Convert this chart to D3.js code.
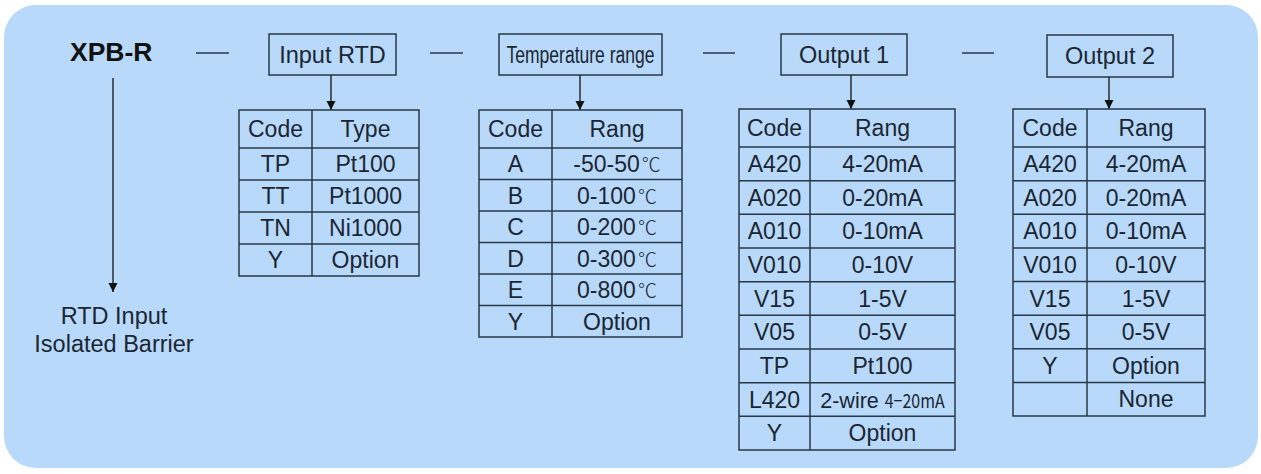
<!DOCTYPE html>
<html><head><meta charset="utf-8">
<script src="https://cdn.jsdelivr.net/npm/d3@7"></script>
<style>html,body{margin:0;padding:0;background:#fff;}svg{display:block;}</style>
</head><body>
<svg id="c" width="1261" height="474"></svg>
<script>
// ---- data ----
const title = "XPB-R";
const subtitle = ["RTD Input", "Isolated Barrier"];
const sectionTitles = ["Input RTD", "Temperature range", "Output 1", "Output 2"];
const headerCodes = ["Code", "Code", "Code", "Code"];
const headerNames = ["Type", "Rang", "Rang", "Rang"];
const inputCodes = ["TP", "TT", "TN", "Y"];
const inputTypes = ["Pt100", "Pt1000", "Ni1000", "Option"];
const tempCodes = ["A", "B", "C", "D", "E", "Y"];
const tempRanges = ["-50-50℃", "0-100℃", "0-200℃", "0-300℃", "0-800℃", "Option"];
const out1Codes = ["A420", "A020", "A010", "V010", "V15", "V05", "TP", "L420", "Y"];
const out1Ranges = ["4-20mA", "0-20mA", "0-10mA", "0-10V", "1-5V", "0-5V", "Pt100", "2-wire 4−20mA", "Option"];
const out2Codes = ["A420", "A020", "A010", "V010", "V15", "V05", "Y", ""];
const out2Ranges = ["4-20mA", "0-20mA", "0-10mA", "0-10V", "1-5V", "0-5V", "Option", "None"];

// ---- layout ----
const ink = "#1b2633";
const line = "#26384a";
const font = "Liberation Sans, Arial, Helvetica, sans-serif";
const fs = 23;
const svg = d3.select("#c");

svg.append("rect").attr("x", 4).attr("y", 5).attr("width", 1254).attr("height", 463)
  .attr("rx", 32).attr("ry", 32).attr("fill", "#b8d9fa");

svg.append("defs").append("marker").attr("id", "ah").attr("viewBox", "0 0 10 10")
  .attr("refX", 10).attr("refY", 5).attr("markerWidth", 9).attr("markerHeight", 11)
  .attr("markerUnits", "userSpaceOnUse").attr("orient", "auto")
  .append("path").attr("d", "M0,0 L10,5 L0,10 Z").attr("fill", "#111");

// title
svg.append("text").attr("x", 70).attr("y", 61).attr("font-family", font)
  .attr("font-weight", "bold").attr("font-size", 26.5).attr("fill", "#111").text(title);
svg.append("line").attr("x1", 113).attr("x2", 113).attr("y1", 78).attr("y2", 292)
  .attr("stroke", "#111").attr("stroke-width", 1.3).attr("marker-end", "url(#ah)");
svg.append("text").attr("font-family", font).attr("font-size", 23.5).attr("fill", ink)
  .attr("text-anchor", "middle")
  .selectAll("tspan").data(subtitle).join("tspan")
  .attr("x", 114).attr("y", (d, i) => 324 + i * 28).text(d => d);

// connector dashes
const dashes = [[196, 229], [430, 463], [703, 735], [962, 994]];
svg.selectAll("line.dash").data(dashes).join("line").attr("class", "dash")
  .attr("x1", d => d[0]).attr("x2", d => d[1]).attr("y1", 53).attr("y2", 53)
  .attr("stroke", line).attr("stroke-width", 1.5);

const sections = [
  {box: [269, 396, 34, 75], arrowX: 331, table: [239, 312, 419], top: 110, bottom: 276,
   codes: inputCodes, names: inputTypes},
  {box: [499, 662, 34, 75], arrowX: 580, table: [479, 552, 682], top: 110, bottom: 337,
   codes: tempCodes, names: tempRanges, condensedTitle: 148},
  {box: [781, 907, 34, 75], arrowX: 851, table: [739, 810, 955], top: 109, bottom: 450,
   codes: out1Codes, names: out1Ranges},
  {box: [1047, 1173, 35, 77], arrowX: 1109, table: [1013, 1087, 1205], top: 109, bottom: 416,
   codes: out2Codes, names: out2Ranges}
];

sections.forEach((s, k) => {
  const g = svg.append("g");
  const [bx0, bx1, by0, by1] = s.box;
  g.append("rect").attr("x", bx0).attr("y", by0).attr("width", bx1 - bx0).attr("height", by1 - by0)
    .attr("fill", "none").attr("stroke", line).attr("stroke-width", 1.5);
  const tt = g.append("text").attr("x", (bx0 + bx1) / 2).attr("y", (by0 + by1) / 2)
    .attr("dy", "0.36em").attr("text-anchor", "middle").attr("font-family", font)
    .attr("font-size", 23.5).attr("fill", ink).text(sectionTitles[k]);
  if (s.condensedTitle) {
    tt.attr("font-size", 23).attr("textLength", s.condensedTitle).attr("lengthAdjust", "spacingAndGlyphs");
  }
  g.append("line").attr("x1", s.arrowX).attr("x2", s.arrowX).attr("y1", by1).attr("y2", s.top)
    .attr("stroke", "#111").attr("stroke-width", 1.3).attr("marker-end", "url(#ah)");

  const [x0, xm, x1] = s.table;
  const headerH = 38;
  const n = s.codes.length;
  const y = d3.scaleLinear().domain([0, n]).range([s.top + headerH, s.bottom]);
  g.append("rect").attr("x", x0).attr("y", s.top).attr("width", x1 - x0).attr("height", s.bottom - s.top)
    .attr("fill", "none").attr("stroke", line).attr("stroke-width", 1.5);
  g.append("line").attr("x1", xm).attr("x2", xm).attr("y1", s.top).attr("y2", s.bottom)
    .attr("stroke", line).attr("stroke-width", 1.5);
  g.selectAll("line.row").data(d3.range(n)).join("line").attr("class", "row")
    .attr("x1", x0).attr("x2", x1).attr("y1", d => y(d)).attr("y2", d => y(d))
    .attr("stroke", line).attr("stroke-width", 1.5);
  const cy0 = s.top + headerH / 2;
  g.append("text").attr("x", (x0 + xm) / 2).attr("y", cy0).attr("dy", "0.36em")
    .attr("text-anchor", "middle").attr("font-family", font).attr("font-size", fs).attr("fill", ink)
    .text(headerCodes[k]);
  g.append("text").attr("x", (xm + x1) / 2).attr("y", cy0).attr("dy", "0.36em")
    .attr("text-anchor", "middle").attr("font-family", font).attr("font-size", fs).attr("fill", ink)
    .text(headerNames[k]);
  g.selectAll("text.code").data(s.codes).join("text").attr("class", "code")
    .attr("x", (x0 + xm) / 2).attr("y", (d, i) => (y(i) + y(i + 1)) / 2).attr("dy", "0.36em")
    .attr("text-anchor", "middle").attr("font-family", font).attr("font-size", fs).attr("fill", ink)
    .text(d => d);
  g.selectAll("text.name").data(s.names).join("text").attr("class", "name")
    .attr("x", (xm + x1) / 2).attr("y", (d, i) => (y(i) + y(i + 1)) / 2).attr("dy", "0.36em")
    .attr("text-anchor", "middle").attr("font-family", font).attr("font-size", fs).attr("fill", ink)
    .each(function (d) {
      const t = d3.select(this);
      if (d.endsWith("℃")) {
        t.append("tspan").text(d.slice(0, -1));
        t.append("tspan").attr("font-family", "Noto Sans CJK SC, DejaVu Serif, serif")
          .attr("font-weight", 300).attr("font-size", 19).attr("dx", 2).text("℃");
      } else if (d.startsWith("2-wire")) {
        t.append("tspan").attr("font-size", 21.5).text("2-wire ");
        t.append("tspan").attr("font-family", "Noto Sans CJK SC, DejaVu Sans, sans-serif")
          .attr("font-size", 19).attr("textLength", 60).attr("lengthAdjust", "spacingAndGlyphs")
          .text(d.slice(7));
      } else {
        t.text(d);
      }
    });
});
</script>
</body></html>
